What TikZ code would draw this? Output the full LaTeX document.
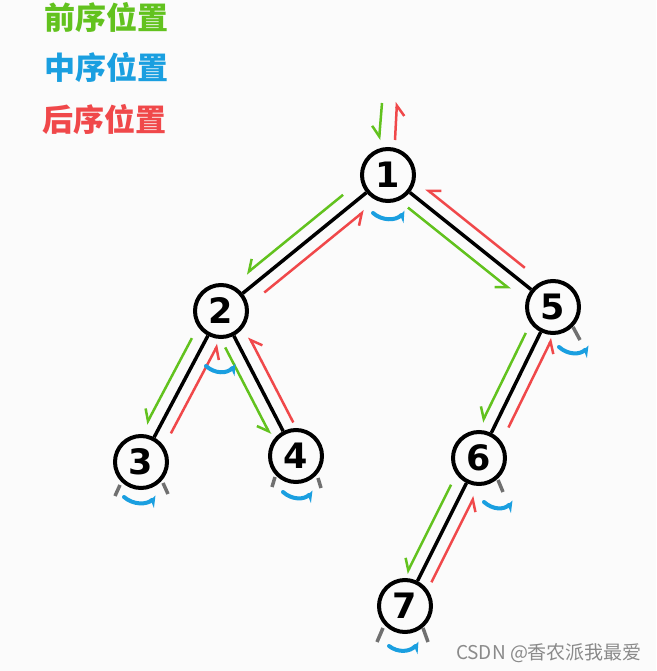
\documentclass[tikz,border=0pt]{standalone}
\usepackage{fontspec}
\newfontfamily\cjk{Noto Sans CJK SC}
\newfontfamily\digitfont{DejaVu Sans}
\usetikzlibrary{arrows.meta,calc}
\definecolor{cgreen}{HTML}{62C21E}
\definecolor{cblue}{HTML}{1A9FE0}
\definecolor{cred}{HTML}{F0484A}
\definecolor{cgray}{HTML}{707070}
\definecolor{wmgray}{HTML}{8A8A8A}
\definecolor{bg}{HTML}{FBFBFB}
\newcommand\travarrows[7]{%
  \draw[prearrow] ($(#1)!#3!(#2)!#7!270:(#2)$) -- ($(#1)!#4!(#2)!#7!270:(#2)$);
  \draw[postarrow] ($(#2)!#5!(#1)!#7!270:(#1)$) -- ($(#2)!#6!(#1)!#7!270:(#1)$);}
\begin{document}
\begin{tikzpicture}[x=1pt,y=-1pt,
  tnode/.style={circle, draw, line width=4pt, minimum size=52pt, inner sep=0pt,
    font=\digitfont\bfseries\fontsize{35}{35}\selectfont},
  treeedge/.style={line width=3.5pt},
  prearrow/.style={draw=cgreen, line width=2.5pt, -{Straight Barb[right,length=10pt,width=16pt]}},
  postarrow/.style={draw=cred, line width=2.5pt, -{Straight Barb[right,length=10pt,width=16pt]}},
  inord/.style={draw=cblue, line width=4pt, line cap=round, -{Stealth[right,length=9pt,width=14pt,inset=3pt]}},
  stub/.style={draw=cgray, line width=3.5pt},
  legend/.style={font=\cjk\bfseries\fontsize{31}{31}\selectfont}]
\fill[bg] (0,0) rectangle (656,671);
\useasboundingbox (0,0) rectangle (656,671);

% legend
\node[legend, text=cgreen] (lpre) at (106,18) {前序位置};
\node[legend, text=cblue] (lin) at (106,68) {中序位置};
\node[legend, text=cred] (lpost) at (104,120) {后序位置};

% nodes
\node[tnode] (n1) at (388,175) {1};
\node[tnode] (n2) at (221,311) {2};
\node[tnode] (n5) at (553,307) {5};
\node[tnode] (n3) at (141,462) {3};
\node[tnode] (n4) at (296,456) {4};
\node[tnode] (n6) at (479,458) {6};
\node[tnode] (n7) at (405,606) {7};

% edges
\draw[treeedge] (n1) -- (n2);
\draw[treeedge] (n1) -- (n5);
\draw[treeedge] (n2) -- (n3);
\draw[treeedge] (n2) -- (n4);
\draw[treeedge] (n5) -- (n6);
\draw[treeedge] (n6) -- (n7);

% traversal arrows
\travarrows{n1}{n2}{0.22}{0.80}{0.21}{0.81}{13pt}
\travarrows{n1}{n5}{0.17}{0.79}{0.22}{0.82}{13pt}
\travarrows{n2}{n3}{0.22}{0.79}{0.23}{0.82}{13pt}
\travarrows{n2}{n4}{0.21}{0.81}{0.19}{0.78}{13pt}
\travarrows{n5}{n6}{0.21}{0.80}{0.24}{0.83}{13pt}
\travarrows{n6}{n7}{0.22}{0.82}{0.20}{0.78}{13pt}

% root entry/exit
\coordinate (gs) at ($(n1)+(-6,-72)$);
\coordinate (ge) at ($(n1)+(-9,-35)$);
\coordinate (rs) at ($(n1)+(7,-35)$);
\coordinate (re) at ($(n1)+(9,-73)$);
\draw[prearrow] (gs) -- (ge);
\draw[postarrow] (rs) -- (re);

% in-order arrows
\draw[inord] ($(n1)+(-15,38)$) .. controls ($(n1)+(-6,46)$) and ($(n1)+(8,46)$) .. ($(n1)+(17,36)$);
\draw[inord] ($(n2)+(-15,55)$) .. controls ($(n2)+(-6,63)$) and ($(n2)+(6,63)$) .. ($(n2)+(15,53)$);
\draw[inord] ($(n3)+(-17,35)$) .. controls ($(n3)+(-8,43)$) and ($(n3)+(6,43)$) .. ($(n3)+(15,34)$);
\draw[inord] ($(n4)+(-13,36)$) .. controls ($(n4)+(-4,44)$) and ($(n4)+(8,44)$) .. ($(n4)+(17,35)$);
\draw[inord] ($(n5)+(6,40)$) .. controls ($(n5)+(15,48)$) and ($(n5)+(27,48)$) .. ($(n5)+(36,39)$);
\draw[inord] ($(n6)+(5,44)$) .. controls ($(n6)+(14,52)$) and ($(n6)+(25,52)$) .. ($(n6)+(34,43)$);
\draw[inord] ($(n7)+(-16,40)$) .. controls ($(n7)+(-7,47)$) and ($(n7)+(5,46)$) .. ($(n7)+(14,36)$);

% null-child stubs
\draw[stub] ($(n3)+(-21,23)$) -- ($(n3)+(-26,34)$);
\draw[stub] ($(n3)+(22,21)$) -- ($(n3)+(27,32)$);
\draw[stub] ($(n4)+(-21,21)$) -- ($(n4)+(-24,31)$);
\draw[stub] ($(n4)+(22,22)$) -- ($(n4)+(25,32)$);
\draw[stub] ($(n5)+(20,20)$) -- ($(n5)+(27,33)$);
\draw[stub] ($(n6)+(19,22)$) -- ($(n6)+(24,34)$);
\draw[stub] ($(n7)+(-22,22)$) -- ($(n7)+(-28,36)$);
\draw[stub] ($(n7)+(18,22)$) -- ($(n7)+(23,36)$);

% watermark
\node[text=wmgray, font=\cjk\fontsize{19}{19}\selectfont] (wm) at (549,653) {CSDN @香农派我最爱};
\end{tikzpicture}
\end{document}
